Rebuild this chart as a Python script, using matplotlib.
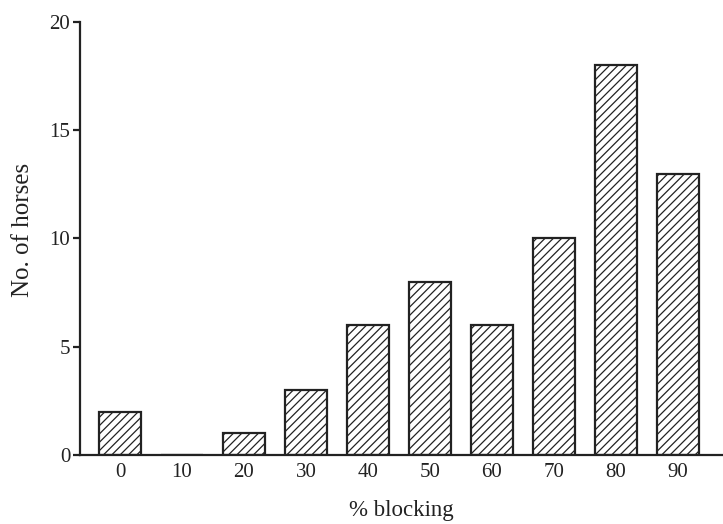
import matplotlib
matplotlib.use("Agg")
import matplotlib.pyplot as plt
import numpy as np

# Data
blocking = ["0", "10", "20", "30", "40", "50", "60", "70", "80", "90"]
horses = [2, 0, 1, 3, 6, 8, 6, 10, 18, 13]

plt.rcParams["font.family"] = ["Liberation Serif", "DejaVu Serif"]
plt.rcParams["hatch.linewidth"] = 0.9

fig = plt.figure(figsize=(7.23, 5.24), dpi=100)
ax = fig.add_axes([0.1107, 0.1317, 0.8893, 0.8263])

x = np.arange(len(blocking))
ax.bar(x, horses, width=0.68, facecolor="white", edgecolor="#222222",
       linewidth=1.6, hatch="////")

ax.set_xlim(-0.645, 9.73)
ax.set_ylim(0, 20)
ax.set_yticks([0, 5, 10, 15, 20])
ax.set_xticks(x)
ax.set_xticklabels(blocking)

for side in ["top", "right"]:
    ax.spines[side].set_visible(False)
for side in ["left", "bottom"]:
    ax.spines[side].set_linewidth(1.6)
    ax.spines[side].set_color("#222222")

ax.tick_params(axis="x", length=0, pad=6, labelsize=15, colors="#222222")
ax.tick_params(axis="y", length=5, width=1.6, pad=2, labelsize=15, colors="#222222")

ax.set_xlabel("% blocking", fontsize=16.5, labelpad=13, color="#222222")
# y label placed in figure coords to sit where the reference has it
fig.text(23 / 723, 1 - 230 / 524, "No. of horses", rotation=90, fontsize=18,
         ha="center", va="center", color="#222222")

fig.savefig("out.png", dpi=100)
